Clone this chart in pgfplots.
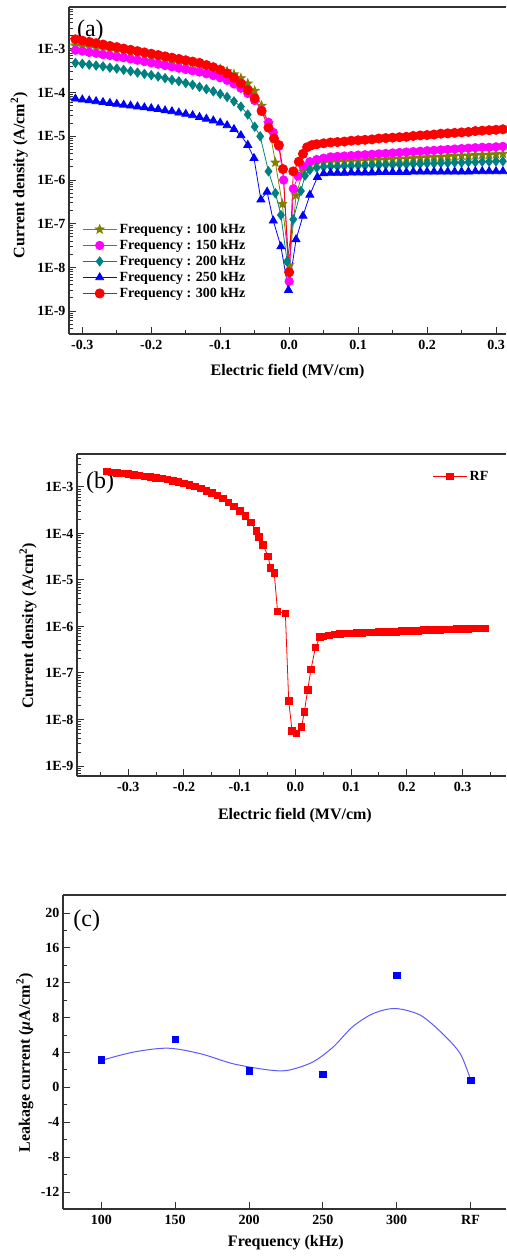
\documentclass[border=0pt]{standalone}
\usepackage{pgfplots}
\pgfplotsset{compat=1.18}
\usepackage{fontspec}
\setmainfont{Liberation Serif}
\definecolor{cOlive}{RGB}{128,128,0}
\definecolor{cMag}{RGB}{255,0,255}
\definecolor{cTeal}{RGB}{0,128,128}
\definecolor{cBlue}{RGB}{0,0,255}
\definecolor{cRed}{RGB}{255,0,0}
\definecolor{cCurve}{RGB}{90,90,255}
\definecolor{axgray}{RGB}{50,50,50}
\newcommand{\tickfont}{\fontsize{14}{14}\selectfont\bfseries}
\newcommand{\labfont}{\fontsize{16}{16}\selectfont\bfseries}
\newcommand{\panfont}{\fontsize{24}{24}\selectfont}
\pgfdeclareplotmark{fstar}{%
 \pgfpathmoveto{\pgfqpointpolar{90}{\pgfplotmarksize}}%
 \pgfpathlineto{\pgfqpointpolar{126}{0.42\pgfplotmarksize}}%
 \pgfpathlineto{\pgfqpointpolar{162}{\pgfplotmarksize}}%
 \pgfpathlineto{\pgfqpointpolar{198}{0.42\pgfplotmarksize}}%
 \pgfpathlineto{\pgfqpointpolar{234}{\pgfplotmarksize}}%
 \pgfpathlineto{\pgfqpointpolar{270}{0.42\pgfplotmarksize}}%
 \pgfpathlineto{\pgfqpointpolar{306}{\pgfplotmarksize}}%
 \pgfpathlineto{\pgfqpointpolar{342}{0.42\pgfplotmarksize}}%
 \pgfpathlineto{\pgfqpointpolar{18}{\pgfplotmarksize}}%
 \pgfpathlineto{\pgfqpointpolar{54}{0.42\pgfplotmarksize}}%
 \pgfpathclose\pgfusepathqfillstroke}
\pgfplotsset{
 common/.style={
  scale only axis,
  axis y line*=left,
  y axis line style={-},
  axis line style={axgray, line width=1.2pt},
  tick style={axgray, line width=1pt},
  tick align=inside,
  xtick pos=left,
  major tick length=7pt,
  minor tick length=4pt,
  tick label style={font=\tickfont, text=black},
  xticklabel style={yshift=-3pt},
  label style={font=\labfont},
  legend cell align=left,
  legend image code/.code={\draw[mark repeat=2,mark phase=2] plot coordinates {(0pt,0pt) (17pt,0pt) (34pt,0pt)};},
 },
 logminor/.style={
  minor ytick={2e-10,3e-10,4e-10,5e-10,6e-10,7e-10,8e-10,9e-10,
   2e-9,3e-9,4e-9,5e-9,6e-9,7e-9,8e-9,9e-9,
   2e-8,3e-8,4e-8,5e-8,6e-8,7e-8,8e-8,9e-8,
   2e-7,3e-7,4e-7,5e-7,6e-7,7e-7,8e-7,9e-7,
   2e-6,3e-6,4e-6,5e-6,6e-6,7e-6,8e-6,9e-6,
   2e-5,3e-5,4e-5,5e-5,6e-5,7e-5,8e-5,9e-5,
   2e-4,3e-4,4e-4,5e-4,6e-4,7e-4,8e-4,9e-4,
   2e-3,3e-3,4e-3,5e-3,6e-3,7e-3,8e-3,9e-3},
  ytick={1e-9,1e-8,1e-7,1e-6,1e-5,1e-4,1e-3},
  yticklabels={1E-9,1E-8,1E-7,1E-6,1E-5,1E-4,1E-3},
 },
}
\begin{document}
\begin{tikzpicture}
\useasboundingbox (0,0) rectangle (506pt,-1257pt);
% ---------------- (a)
\begin{axis}[common, logminor,
  at={(69pt,-7pt)}, anchor=north west, width=437pt, height=327pt,
  xmin=-0.3193, xmax=0.3145, ymode=log, ymin=3e-10, ymax=9.1e-3,
  xtick={-0.3,-0.2,-0.1,0,0.1,0.2,0.3},
  xticklabels={-0.3,-0.2,-0.1,0.0,0.1,0.2,0.3},
  minor xtick={-0.25,-0.15,-0.05,0.05,0.15,0.25},
  xlabel={Electric field (MV/cm)},
  ylabel={Current density (A/cm\textsuperscript{2})},
  xlabel style={at={(axis description cs:0.5,-0.116)}, anchor=center},
  ylabel style={at={(axis description cs:-0.114,0.485)}, anchor=center},
  legend style={at={(0.03,0.345)}, anchor=north west, draw=none, fill=none,
    font=\fontsize{14}{14}\selectfont\bfseries, nodes={inner sep=2.4pt}, inner sep=0pt, row sep=0pt},
]
\addplot[cOlive, line width=0.8pt, mark=fstar, mark size=4.6pt, mark options={solid, fill=cOlive, draw=cOlive}] coordinates {
(-0.33,1.32e-3)(-0.32,1.26e-3)(-0.31,1.20e-3)(-0.30,1.15e-3)(-0.29,1.10e-3)(-0.28,1.05e-3)(-0.27,9.77e-4)(-0.26,9.33e-4)(-0.25,8.91e-4)(-0.24,8.51e-4)(-0.23,7.94e-4)(-0.22,7.59e-4)(-0.21,7.08e-4)(-0.20,6.76e-4)(-0.19,6.31e-4)(-0.18,6.03e-4)(-0.17,5.62e-4)(-0.16,5.37e-4)(-0.15,5.01e-4)(-0.14,4.79e-4)(-0.13,4.47e-4)(-0.12,4.17e-4)(-0.11,3.80e-4)(-0.10,3.47e-4)(-0.09,3.09e-4)(-0.08,2.63e-4)(-0.07,2.14e-4)(-0.06,1.62e-4)(-0.05,1.10e-4)(-0.04,5.01e-5)(-0.03,2.00e-5)(-0.02,2.51e-6)(-0.01,2.82e-7)(0.0,1.12e-8)(0.01,4.47e-7)(0.02,1.58e-6)(0.03,2.24e-6)(0.04,2.40e-6)(0.05,2.51e-6)(0.06,2.57e-6)(0.07,2.63e-6)(0.08,2.69e-6)(0.09,2.69e-6)(0.10,2.75e-6)(0.11,2.82e-6)(0.12,2.88e-6)(0.13,2.88e-6)(0.14,2.95e-6)(0.15,3.02e-6)(0.16,3.09e-6)(0.17,3.09e-6)(0.18,3.16e-6)(0.19,3.24e-6)(0.20,3.31e-6)(0.21,3.39e-6)(0.22,3.39e-6)(0.23,3.47e-6)(0.24,3.55e-6)(0.25,3.63e-6)(0.26,3.63e-6)(0.27,3.72e-6)(0.28,3.80e-6)(0.29,3.80e-6)(0.30,3.89e-6)(0.31,3.98e-6)(0.32,3.98e-6)(0.33,4.07e-6)};
\addlegendentry{Frequency : 100 kHz}
\addplot[cMag, line width=0.8pt, mark=*, mark size=4.2pt, mark options={solid, fill=cMag, draw=cMag}] coordinates {
(-0.33,1.05e-3)(-0.32,1.00e-3)(-0.31,9.33e-4)(-0.30,8.91e-4)(-0.29,8.32e-4)(-0.28,7.94e-4)(-0.27,7.41e-4)(-0.26,7.08e-4)(-0.25,6.61e-4)(-0.24,6.31e-4)(-0.23,5.89e-4)(-0.22,5.50e-4)(-0.21,5.13e-4)(-0.20,4.79e-4)(-0.19,4.47e-4)(-0.18,4.17e-4)(-0.17,3.89e-4)(-0.16,3.63e-4)(-0.15,3.39e-4)(-0.14,3.16e-4)(-0.13,2.95e-4)(-0.12,2.69e-4)(-0.11,2.45e-4)(-0.10,2.19e-4)(-0.09,1.91e-4)(-0.08,1.58e-4)(-0.07,1.26e-4)(-0.06,9.55e-5)(-0.05,6.61e-5)(-0.04,3.98e-5)(-0.03,2.09e-5)(-0.023,1.23e-5)(-0.015,5.89e-6)(-0.008,1.00e-6)(0.0,4.79e-9)(0.006,6.31e-7)(0.013,1.23e-6)(0.02,2.09e-6)(0.03,2.63e-6)(0.04,2.95e-6)(0.05,3.16e-6)(0.06,3.39e-6)(0.07,3.47e-6)(0.08,3.55e-6)(0.09,3.63e-6)(0.10,3.72e-6)(0.11,3.80e-6)(0.12,3.89e-6)(0.13,3.98e-6)(0.14,4.07e-6)(0.15,4.17e-6)(0.16,4.27e-6)(0.17,4.37e-6)(0.18,4.47e-6)(0.19,4.57e-6)(0.20,4.68e-6)(0.21,4.79e-6)(0.22,4.90e-6)(0.23,5.01e-6)(0.24,5.13e-6)(0.25,5.25e-6)(0.26,5.37e-6)(0.27,5.50e-6)(0.28,5.62e-6)(0.29,5.62e-6)(0.30,5.75e-6)(0.31,5.89e-6)(0.32,6.03e-6)(0.33,6.03e-6)};
\addlegendentry{Frequency : 150 kHz}
\addplot[cTeal, line width=0.8pt, mark=diamond*, mark size=4.6pt, mark options={solid, fill=cTeal, draw=cTeal}] coordinates {
(-0.33,5.25e-4)(-0.32,5.01e-4)(-0.31,4.79e-4)(-0.30,4.57e-4)(-0.29,4.37e-4)(-0.28,4.17e-4)(-0.27,3.98e-4)(-0.26,3.72e-4)(-0.25,3.55e-4)(-0.24,3.31e-4)(-0.23,3.09e-4)(-0.22,2.88e-4)(-0.21,2.69e-4)(-0.20,2.51e-4)(-0.19,2.34e-4)(-0.18,2.14e-4)(-0.17,1.95e-4)(-0.16,1.82e-4)(-0.15,1.66e-4)(-0.14,1.51e-4)(-0.13,1.35e-4)(-0.12,1.20e-4)(-0.11,1.07e-4)(-0.10,9.33e-5)(-0.09,7.94e-5)(-0.08,6.31e-5)(-0.07,4.79e-5)(-0.06,3.16e-5)(-0.05,1.66e-5)(-0.042,1.00e-5)(-0.03,1.58e-6)(-0.02,5.01e-7)(-0.012,1.58e-7)(-0.003,1.38e-8)(0.006,1.26e-7)(0.017,5.62e-7)(0.023,1.26e-6)(0.03,1.70e-6)(0.04,1.91e-6)(0.05,2.00e-6)(0.06,2.04e-6)(0.07,2.04e-6)(0.08,2.09e-6)(0.09,2.09e-6)(0.10,2.14e-6)(0.11,2.14e-6)(0.12,2.19e-6)(0.13,2.19e-6)(0.14,2.24e-6)(0.15,2.24e-6)(0.16,2.29e-6)(0.17,2.29e-6)(0.18,2.34e-6)(0.19,2.34e-6)(0.20,2.40e-6)(0.21,2.40e-6)(0.22,2.45e-6)(0.23,2.45e-6)(0.24,2.51e-6)(0.25,2.51e-6)(0.26,2.57e-6)(0.27,2.57e-6)(0.28,2.63e-6)(0.29,2.63e-6)(0.30,2.69e-6)(0.31,2.69e-6)(0.32,2.75e-6)(0.33,2.75e-6)};
\addlegendentry{Frequency : 200 kHz}
\addplot[cBlue, line width=0.8pt, mark=triangle*, mark size=4.6pt, mark options={solid, fill=cBlue, draw=cBlue}] coordinates {
(-0.33,7.94e-5)(-0.32,7.59e-5)(-0.31,7.24e-5)(-0.30,6.92e-5)(-0.29,6.61e-5)(-0.28,6.31e-5)(-0.27,6.03e-5)(-0.26,5.75e-5)(-0.25,5.50e-5)(-0.24,5.25e-5)(-0.23,5.01e-5)(-0.22,4.79e-5)(-0.21,4.57e-5)(-0.20,4.37e-5)(-0.19,4.17e-5)(-0.18,3.89e-5)(-0.17,3.72e-5)(-0.16,3.47e-5)(-0.15,3.24e-5)(-0.14,3.02e-5)(-0.13,2.75e-5)(-0.12,2.51e-5)(-0.11,2.29e-5)(-0.10,2.04e-5)(-0.09,1.78e-5)(-0.08,1.45e-5)(-0.07,1.05e-5)(-0.06,6.31e-6)(-0.051,3.16e-6)(-0.041,3.55e-7)(-0.032,5.37e-7)(-0.023,1.17e-7)(-0.012,3.02e-8)(-0.001,3.02e-9)(0.01,4.37e-8)(0.02,1.51e-7)(0.03,4.57e-7)(0.041,1.17e-6)(0.05,1.41e-6)(0.06,1.45e-6)(0.07,1.45e-6)(0.08,1.45e-6)(0.09,1.48e-6)(0.10,1.48e-6)(0.11,1.48e-6)(0.12,1.48e-6)(0.13,1.51e-6)(0.14,1.51e-6)(0.15,1.51e-6)(0.16,1.51e-6)(0.17,1.51e-6)(0.18,1.55e-6)(0.19,1.55e-6)(0.20,1.55e-6)(0.21,1.55e-6)(0.22,1.55e-6)(0.23,1.55e-6)(0.24,1.55e-6)(0.25,1.55e-6)(0.26,1.55e-6)(0.27,1.58e-6)(0.28,1.58e-6)(0.29,1.58e-6)(0.30,1.58e-6)(0.31,1.58e-6)(0.32,1.58e-6)(0.33,1.58e-6)};
\addlegendentry{Frequency : 250 kHz}
\addplot[cRed, line width=0.8pt, mark=*, mark size=4.6pt, mark options={solid, fill=cRed, draw=cRed}] coordinates {
(-0.33,1.86e-3)(-0.32,1.78e-3)(-0.31,1.66e-3)(-0.30,1.55e-3)(-0.29,1.45e-3)(-0.28,1.35e-3)(-0.27,1.26e-3)(-0.26,1.17e-3)(-0.25,1.10e-3)(-0.24,1.02e-3)(-0.23,9.55e-4)(-0.22,8.91e-4)(-0.21,8.32e-4)(-0.20,7.76e-4)(-0.19,7.24e-4)(-0.18,6.76e-4)(-0.17,6.31e-4)(-0.16,5.89e-4)(-0.15,5.50e-4)(-0.14,5.13e-4)(-0.13,4.79e-4)(-0.12,4.27e-4)(-0.11,3.80e-4)(-0.10,3.31e-4)(-0.09,2.75e-4)(-0.08,2.19e-4)(-0.07,1.62e-4)(-0.06,1.15e-4)(-0.05,7.41e-5)(-0.04,3.80e-5)(-0.03,1.58e-5)(-0.022,8.91e-6)(-0.015,6.31e-6)(-0.009,1.78e-6)(0.0,7.76e-9)(0.006,1.58e-6)(0.014,2.63e-6)(0.02,3.98e-6)(0.026,5.62e-6)(0.033,6.31e-6)(0.04,6.61e-6)(0.05,6.92e-6)(0.06,7.24e-6)(0.07,7.41e-6)(0.08,7.59e-6)(0.09,7.94e-6)(0.10,8.13e-6)(0.11,8.32e-6)(0.12,8.51e-6)(0.13,8.91e-6)(0.14,9.12e-6)(0.15,9.33e-6)(0.16,9.55e-6)(0.17,9.77e-6)(0.18,1.02e-5)(0.19,1.05e-5)(0.20,1.07e-5)(0.21,1.10e-5)(0.22,1.15e-5)(0.23,1.17e-5)(0.24,1.20e-5)(0.25,1.23e-5)(0.26,1.26e-5)(0.27,1.32e-5)(0.28,1.35e-5)(0.29,1.38e-5)(0.30,1.41e-5)(0.31,1.45e-5)(0.32,1.48e-5)(0.33,1.51e-5)};
\addlegendentry{Frequency : 300 kHz}
\node[anchor=west, inner sep=0pt, font=\panfont] at (rel axis cs:0.018,0.927) {(a)};
\end{axis}
% ---------------- (b)
\begin{axis}[common, logminor,
  at={(77pt,-454pt)}, anchor=north west, width=429pt, height=322pt,
  xmin=-0.392, xmax=0.378, ymode=log, ymin=6.1e-10, ymax=5.1e-3,
  xtick={-0.3,-0.2,-0.1,0,0.1,0.2,0.3},
  xticklabels={-0.3,-0.2,-0.1,0.0,0.1,0.2,0.3},
  minor xtick={-0.35,-0.25,-0.15,-0.05,0.05,0.15,0.25,0.35},
  xlabel={Electric field (MV/cm)},
  ylabel={Current density (A/cm\textsuperscript{2})},
  xlabel style={at={(axis description cs:0.508,-0.124)}, anchor=center},
  ylabel style={at={(axis description cs:-0.114,0.466)}, anchor=center},
  legend style={at={(0.965,0.955)}, anchor=north east, draw=none, fill=none,
    font=\fontsize{14}{14}\selectfont\bfseries, nodes={inner sep=2.4pt}, inner sep=0pt},
]
\addplot[cRed, line width=0.8pt, mark=square*, mark size=3.3pt, mark options={solid, fill=cRed, draw=cRed}] coordinates {
(-0.338,2.14e-3)(-0.33,2.04e-3)(-0.32,2.00e-3)(-0.31,1.95e-3)(-0.30,1.91e-3)(-0.29,1.82e-3)(-0.28,1.78e-3)(-0.27,1.70e-3)(-0.26,1.66e-3)(-0.25,1.58e-3)(-0.24,1.51e-3)(-0.23,1.45e-3)(-0.22,1.35e-3)(-0.21,1.29e-3)(-0.20,1.20e-3)(-0.19,1.12e-3)(-0.18,1.02e-3)(-0.17,9.33e-4)(-0.16,8.32e-4)(-0.15,7.41e-4)(-0.14,6.61e-4)(-0.13,5.62e-4)(-0.12,4.68e-4)(-0.11,3.80e-4)(-0.10,3.02e-4)(-0.09,2.40e-4)(-0.08,1.74e-4)(-0.07,1.12e-4)(-0.065,8.32e-5)(-0.058,5.62e-5)(-0.049,3.24e-5)(-0.045,1.82e-5)(-0.038,1.41e-5)(-0.032,2.09e-6)(-0.018,1.91e-6)(-0.012,2.51e-8)(-0.006,5.62e-9)(0.002,5.01e-9)(0.011,6.92e-9)(0.016,1.45e-8)(0.022,4.27e-8)(0.028,1.20e-7)(0.036,3.55e-7)(0.044,5.89e-7)(0.05,6.17e-7)(0.06,6.46e-7)(0.07,6.76e-7)(0.08,6.92e-7)(0.09,7.08e-7)(0.10,7.08e-7)(0.11,7.24e-7)(0.12,7.24e-7)(0.13,7.41e-7)(0.14,7.41e-7)(0.15,7.59e-7)(0.16,7.59e-7)(0.17,7.76e-7)(0.18,7.76e-7)(0.19,7.94e-7)(0.20,7.94e-7)(0.21,8.13e-7)(0.22,8.13e-7)(0.23,8.32e-7)(0.24,8.32e-7)(0.25,8.51e-7)(0.26,8.51e-7)(0.27,8.71e-7)(0.28,8.71e-7)(0.29,8.91e-7)(0.30,8.91e-7)(0.31,8.91e-7)(0.32,9.12e-7)(0.33,9.12e-7)(0.34,9.12e-7)};
\addlegendentry{RF}
\node[anchor=west, inner sep=0pt, font=\panfont] at (rel axis cs:0.021,0.91) {(b)};
\end{axis}
% ---------------- (c)
\begin{axis}[common,
  at={(63pt,-895pt)}, anchor=north west, width=443pt, height=314pt,
  xmin=74, xmax=374, ymin=-13.95, ymax=22.07,
  xtick={100,150,200,250,300,350},
  xticklabels={100,150,200,250,300,RF},
  ytick={-12,-8,-4,0,4,8,12,16,20},
  yticklabels={-12,-8,-4,0,4,8,12,16,20},
  minor ytick={-14,-10,-6,-2,2,6,10,14,18,22},
  xlabel={Frequency (kHz)},
  ylabel={Leakage current (\textit{μ}A/cm\textsuperscript{2})},
  xlabel style={at={(axis description cs:0.503,-0.108)}, anchor=center},
  ylabel style={at={(axis description cs:-0.086,0.465)}, anchor=center},
]
\addplot[cCurve, line width=1pt, smooth, no markers] coordinates {
(100,3.1)(122,4.06)(145,4.5)(167,3.87)(189,2.72)(212,2.03)(226,1.95)(243,2.9)(257,4.64)(270,6.94)(284,8.47)(299,9.05)(316,8.28)(331,6.17)(343,3.87)(350,0.9)};
\addplot[only marks, mark=square*, mark size=3.2pt, mark options={fill=cBlue, draw=cBlue}] coordinates {
(100,3.2)(150,5.5)(200,1.9)(250,1.5)(300,12.9)(350,0.8)};
\node[anchor=west, inner sep=0pt, font=\panfont] at (rel axis cs:0.023,0.917) {(c)};
\end{axis}
\end{tikzpicture}
\end{document}
